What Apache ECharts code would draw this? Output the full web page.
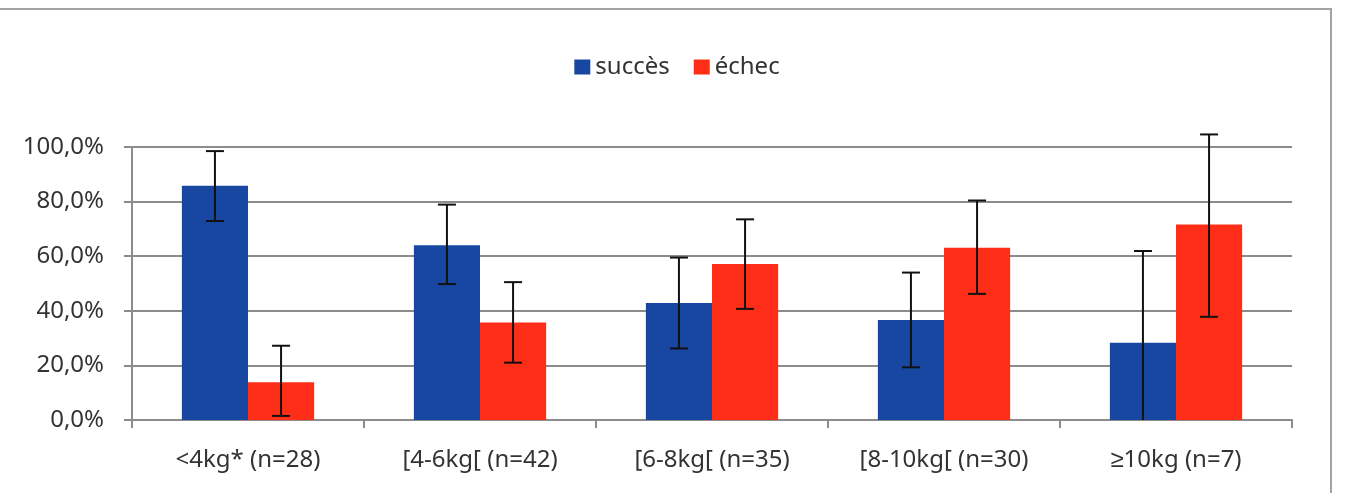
<!DOCTYPE html>
<html>
<head>
<meta charset="utf-8">
<script src="https://cdn.jsdelivr.net/npm/echarts@6/dist/echarts.min.js"></script>
<style>
  html, body { margin: 0; padding: 0; background: #fff; }
  #main { width: 1354px; height: 493px; }
</style>
</head>
<body>
<div id="main"></div>
<script>
// catégories (poids)
let categories = ['<4kg* (n=28)', '[4-6kg[ (n=42)', '[6-8kg[ (n=35)', '[8-10kg[ (n=30)', '≥10kg (n=7)'];

// pourcentages
let succes = [85.8, 64.0, 42.9, 36.6, 28.3];
let echec = [13.8, 35.7, 57.1, 63.1, 71.6];

// barres d'erreur : bas / haut
let succesLow = [72.9, 49.8, 26.2, 19.3, -5.3];
let succesHigh = [98.5, 78.9, 59.5, 54.0, 61.9];
let echecLow = [1.5, 21.0, 40.7, 46.2, 37.8];
let echecHigh = [27.2, 50.5, 73.5, 80.4, 104.6];

// data pour les séries custom : [index, bas, haut]
function errData(low, high) {
    let d = [];
    for (let i = 0; i < low.length; i++) {
        d.push([i, low[i], high[i]]);
    }
    return d;
}

// dessine une barre d'erreur décalée sur la barre (side = -1 gauche, +1 droite)
function errRender(side) {
    return function (params, api) {
        let idx = api.value(0);
        let bw = api.size([1, 0])[0] * 0.285;
        let x = api.coord([idx, 0])[0] + side * bw / 2;
        let clipped = api.value(1) < 0;
        let yLo = api.coord([idx, Math.max(api.value(1), 0)])[1];
        let yHi = api.coord([idx, api.value(2)])[1];
        let st = { stroke: '#111', lineWidth: 2 };
        let children = [
            { type: 'line', shape: { x1: x, y1: yLo, x2: x, y2: yHi }, style: st },
            { type: 'line', shape: { x1: x - 9, y1: yHi, x2: x + 9, y2: yHi }, style: st }
        ];
        if (!clipped) {
            children.push({ type: 'line', shape: { x1: x - 9, y1: yLo, x2: x + 9, y2: yLo }, style: st });
        }
        return { type: 'group', children: children };
    };
}

let myChart = echarts.init(document.getElementById('main'));

let font = 'Noto Sans, sans-serif';

let option = {
    animation: false,
    backgroundColor: '#fff',
    textStyle: { fontFamily: font },
    // cadre autour du graphique
    graphic: [{
        type: 'rect',
        shape: { x: -2, y: 9, width: 1333, height: 500 },
        style: { fill: 'none', stroke: '#a3a3a3', lineWidth: 2 },
        z: -1
    }],
    legend: {
        data: ['succès', 'échec'],
        top: 50,
        left: 'center',
        icon: 'rect',
        itemWidth: 16,
        itemHeight: 15,
        itemGap: 24,
        textStyle: { fontSize: 24, color: '#333', fontFamily: font }
    },
    grid: {
        left: 132,
        right: 62,
        top: 147,
        bottom: 73
    },
    xAxis: {
        type: 'category',
        data: categories,
        axisLine: { lineStyle: { color: '#8c8c8c', width: 2 } },
        axisTick: { show: true, length: 8, lineStyle: { color: '#8c8c8c', width: 2 } },
        axisLabel: { fontSize: 24, color: '#333', margin: 28, fontFamily: font }
    },
    yAxis: {
        type: 'value',
        min: 0,
        max: 100,
        interval: 20,
        axisLine: { show: true, lineStyle: { color: '#8c8c8c', width: 2 } },
        axisTick: { show: true, length: 8, lineStyle: { color: '#8c8c8c', width: 2 } },
        splitLine: { lineStyle: { color: '#8c8c8c', width: 2 } },
        axisLabel: {
            fontSize: 24,
            color: '#333',
            margin: 28,
            fontFamily: font,
            formatter: function (v) {
                return v.toFixed(1).replace('.', ',') + '%';
            }
        }
    },
    series: [
        {
            name: 'succès',
            type: 'bar',
            data: succes,
            barWidth: '28.5%',
            barGap: '0%',
            itemStyle: { color: '#1747A1' }
        },
        {
            name: 'échec',
            type: 'bar',
            data: echec,
            barWidth: '28.5%',
            barGap: '0%',
            itemStyle: { color: '#FE2E18' }
        },
        {
            name: 'err-succès',
            type: 'custom',
            renderItem: errRender(-1),
            data: errData(succesLow, succesHigh),
            encode: { x: 0, y: [1, 2] },
            z: 10
        },
        {
            name: 'err-échec',
            type: 'custom',
            renderItem: errRender(1),
            data: errData(echecLow, echecHigh),
            encode: { x: 0, y: [1, 2] },
            z: 10
        }
    ]
};

myChart.setOption(option);
</script>
</body>
</html>
